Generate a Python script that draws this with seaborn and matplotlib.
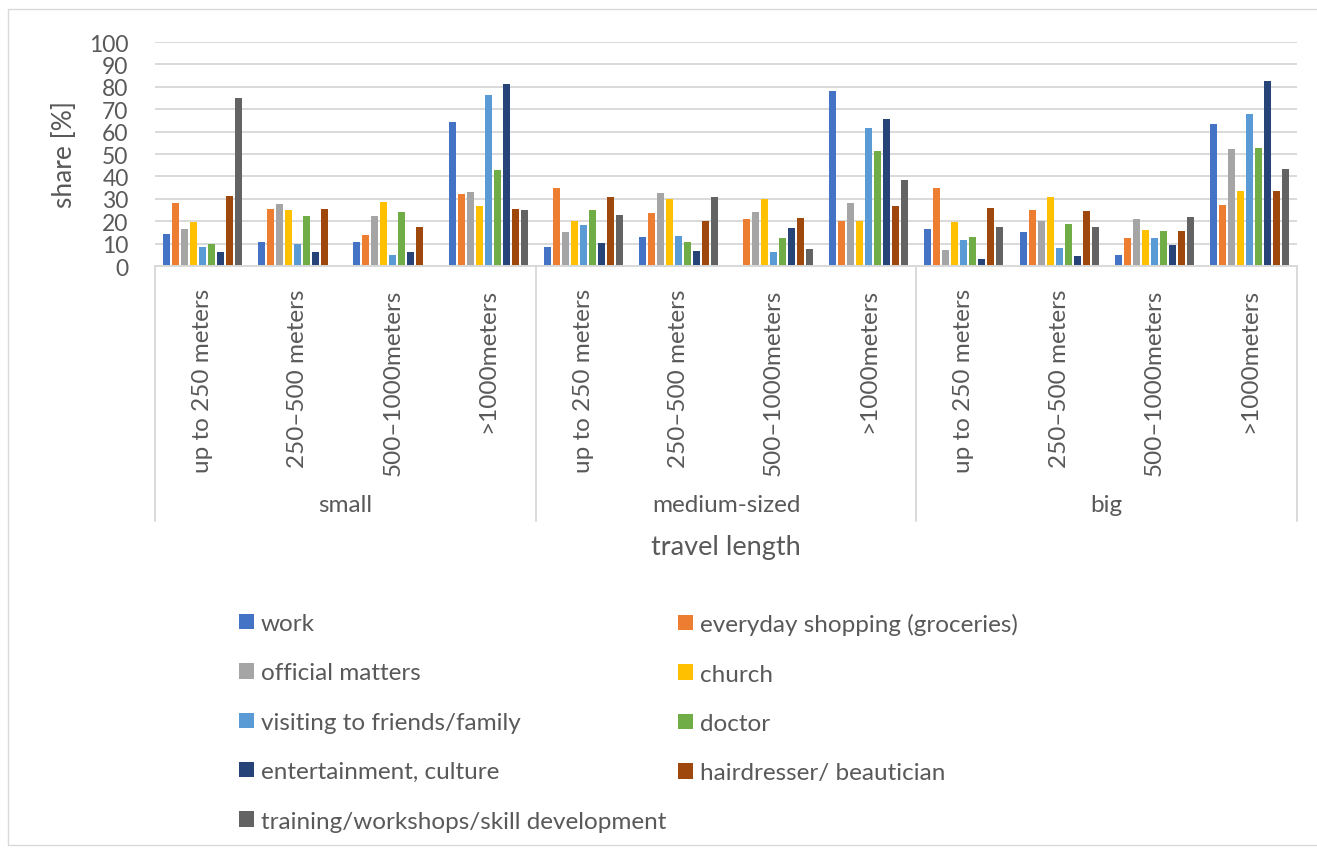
import numpy as np
import pandas as pd
import matplotlib
matplotlib.use("Agg")
import matplotlib.pyplot as plt
import matplotlib.transforms as mtransforms
from matplotlib.patches import Rectangle, Patch
from matplotlib.lines import Line2D
import seaborn as sns

# ---- data -----------------------------------------------------------------
town_sizes = ["small", "medium-sized", "big"]
travel_lengths = ["up to 250 meters", "250\u2013500 meters", "500\u20131000meters", ">1000meters"]

purposes = [
    "work",
    "everyday shopping (groceries)",
    "official matters",
    "church",
    "visiting to friends/family",
    "doctor",
    "entertainment, culture",
    "hairdresser/ beautician",
    "training/workshops/skill development",
]

# share [%] per cluster: small x4, medium-sized x4, big x4
work = [14.1, 10.5, 10.5, 64.2, 8.5, 12.9, 0.0, 78.3, 16.6, 15.0, 5.0, 63.2]
shopping = [28.2, 25.5, 13.9, 32.0, 34.9, 23.7, 21.1, 20.2, 35.0, 24.8, 12.6, 27.4]
official = [16.6, 27.6, 22.1, 33.2, 15.1, 32.6, 23.9, 28.2, 7.1, 19.9, 20.8, 52.2]
church = [19.6, 24.9, 28.5, 26.7, 20.0, 30.0, 30.0, 20.0, 19.6, 30.9, 15.9, 33.4]
visiting = [8.3, 9.9, 4.9, 76.3, 18.5, 13.2, 6.4, 61.4, 11.6, 8.2, 12.6, 67.7]
doctor = [9.9, 22.3, 24.3, 42.9, 24.9, 10.8, 12.5, 51.5, 13.1, 18.7, 15.7, 52.5]
entertainment = [6.1, 6.1, 6.1, 81.3, 10.2, 6.8, 17.1, 65.6, 3.3, 4.6, 9.2, 82.5]
hairdresser = [31.3, 25.4, 17.5, 25.4, 30.9, 20.2, 21.5, 27.0, 26.0, 24.5, 15.7, 33.5]
training = [75.1, 0.0, 0.0, 24.9, 22.8, 30.6, 7.6, 38.4, 17.4, 17.4, 21.7, 43.5]

series = [work, shopping, official, church, visiting, doctor,
          entertainment, hairdresser, training]

colors = ["#4472C4", "#ED7D31", "#A5A5A5", "#FFC000", "#5B9BD5",
          "#70AD47", "#264478", "#9E480E", "#636363"]

y_ticks = list(range(0, 101, 10))

# ---- long table for seaborn -----------------------------------------------
clusters = [f"{s}|{t}" for s in town_sizes for t in travel_lengths]
rows = []
for name, vals in zip(purposes, series):
    for c, v in zip(clusters, vals):
        rows.append({"cluster": c, "purpose": name, "share": v})
df = pd.DataFrame(rows)

# ---- figure ---------------------------------------------------------------
W, H = 1317, 854
sns.set_style("white")
plt.rcParams["font.family"] = ["Lato", "DejaVu Sans"]
text_color = "#595959"
grid_color = "#D9D9D9"

fig = plt.figure(figsize=(W / 100, H / 100), dpi=100)

def fx(px):
    return px / W

def fy(py):
    return 1 - py / H

ax = fig.add_axes([fx(155), fy(267), fx(1297) - fx(155), fy(43) - fy(267)])

sns.barplot(data=df, x="cluster", y="share", hue="purpose", order=clusters,
            hue_order=purposes, palette=colors, saturation=1, width=0.85,
            gap=0.22, linewidth=0, errorbar=None, legend=False, ax=ax)

ax.set_xlim(-0.5, len(clusters) - 0.5)
ax.set_ylim(0, 100)
ax.set_yticks(y_ticks)
ax.set_yticklabels([str(t) for t in y_ticks], fontsize=16.5, color=text_color)
ax.yaxis.grid(True, color=grid_color, linewidth=1.4)
ax.set_axisbelow(True)
ax.tick_params(axis="y", length=0, pad=19)
for side in ["top", "right", "left"]:
    ax.spines[side].set_visible(False)
ax.spines["bottom"].set_color(grid_color)
ax.spines["bottom"].set_linewidth(1.4)

ax.set_xticks(range(len(clusters)))
ax.set_xticklabels(travel_lengths * len(town_sizes), rotation=90,
                   fontsize=17.5, color=text_color, va="top", ha="center")
ax.tick_params(axis="x", length=0, pad=16)
ax.set_xlabel("")
ax.set_ylabel("")

# multi-level category axis: group separators and group names
blend = mtransforms.blended_transform_factory(ax.transData, fig.transFigure)
n_len = len(travel_lengths)
for k in range(len(town_sizes) + 1):
    xb = k * n_len - 0.5
    fig.add_artist(Line2D([xb, xb], [fy(267), fy(522)], transform=blend,
                          color=grid_color, linewidth=1.4))
for k, size in enumerate(town_sizes):
    xc = k * n_len + (n_len - 1) / 2
    fig.text(xc, fy(506), size, transform=blend, ha="center", va="center",
             fontsize=17.5, color=text_color)

fig.text(fx(726), fy(547), "travel length", ha="center", va="center",
         fontsize=19.5, color=text_color)
fig.text(fx(65), fy(155), "share [%]", ha="center", va="center",
         rotation=90, fontsize=19, color=text_color)

# legend laid out in two columns, filled row by row
handles = [Patch(facecolor=c, edgecolor="none") for c in colors]
left_idx = [0, 2, 4, 6, 8]
right_idx = [1, 3, 5, 7]
common = dict(frameon=False, loc="upper left", fontsize=17.5,
              handlelength=0.6, handleheight=0.6, handletextpad=0.3,
              labelspacing=1.17, borderpad=0, borderaxespad=0,
              labelcolor=text_color)
fig.legend([handles[i] for i in left_idx], [purposes[i] for i in left_idx],
           bbox_to_anchor=(fx(239), fy(614)), **common)
fig.legend([handles[i] for i in right_idx], [purposes[i] for i in right_idx],
           bbox_to_anchor=(fx(678), fy(614)), **common)

# outer chart frame
fig.add_artist(Rectangle((fx(8), fy(846)), fx(1330) - fx(8), fy(10) - fy(846),
                         transform=fig.transFigure, fill=False,
                         edgecolor=grid_color, linewidth=1.0))

fig.savefig("out.png", dpi=100)
